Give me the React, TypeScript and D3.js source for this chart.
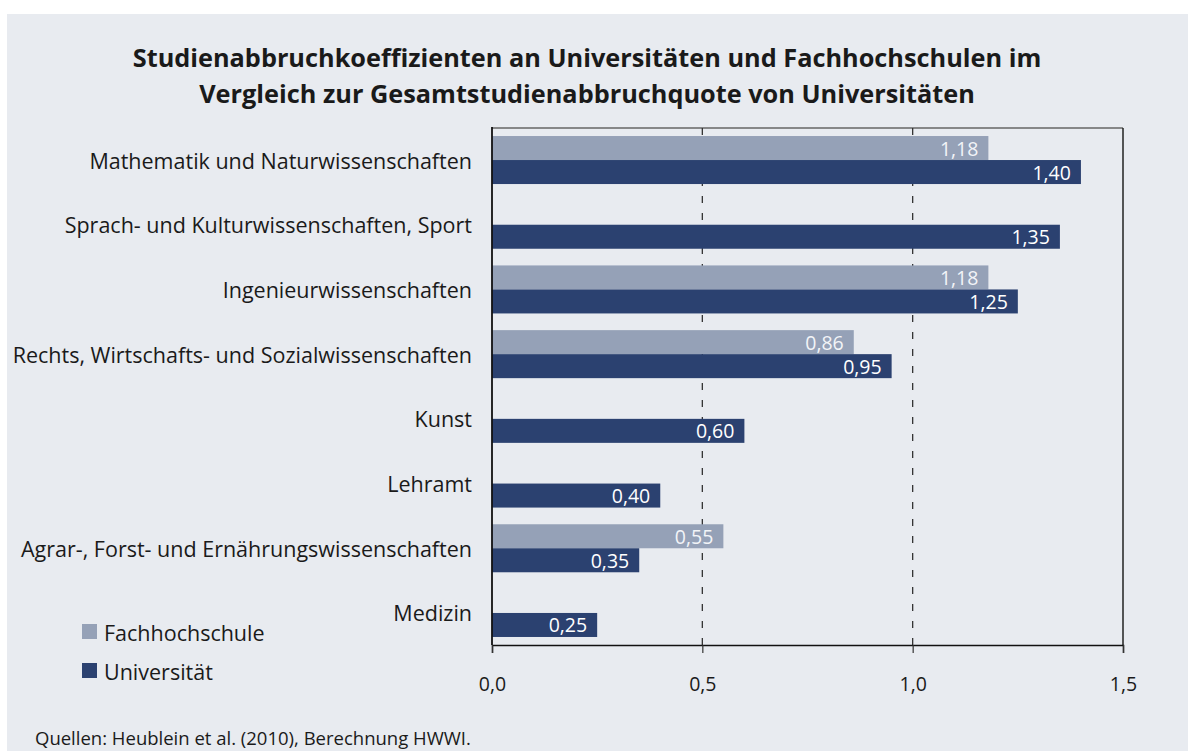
import React, { useEffect, useRef } from "react";
import * as d3 from "d3";

const categories = [
  "Mathematik und Naturwissenschaften",
  "Sprach- und Kulturwissenschaften, Sport",
  "Ingenieurwissenschaften",
  "Rechts, Wirtschafts- und Sozialwissenschaften",
  "Kunst",
  "Lehramt",
  "Agrar-, Forst- und Ernährungswissenschaften",
  "Medizin",
];
const fachhochschule: (number | null)[] = [1.18, null, 1.18, 0.86, null, null, 0.55, null];
const universitaet: number[] = [1.4, 1.35, 1.25, 0.95, 0.6, 0.4, 0.35, 0.25];
const seriesNames = ["Fachhochschule", "Universität"];
const xTicks = [0, 0.5, 1.0, 1.5];

const W = 1188;
const H = 751;
const FONT = "'Open Sans', 'Noto Sans', sans-serif";
const BG = "#e8ebf0";
const C_FH = "#95a1b7";
const C_UNI = "#2b4170";
const TXT = "#1a1a1a";

const fmt = (v: number) => d3.format(".2f")(v).replace(".", ",");

export default function App() {
  const axisRef = useRef<SVGGElement>(null);

  const x = d3.scaleLinear().domain([0, 1.5]).range([492, 1123]);
  const y = d3
    .scaleBand<string>()
    .domain(categories)
    .range([128, 645])
    .paddingInner(0.258)
    .paddingOuter(0.124);
  const inner = d3.scaleBand<string>().domain(seriesNames).range([0, y.bandwidth()]);

  useEffect(() => {
    const g = d3.select(axisRef.current);
    g.selectAll("*").remove();
    g.call(
      d3
        .axisBottom(x)
        .tickValues(xTicks)
        .tickSize(8)
        .tickPadding(24)
        .tickFormat((d) => d3.format(".1f")(d as number).replace(".", ","))
    );
    g.select(".domain").attr("stroke", "#111").attr("stroke-width", 1.5);
    g.selectAll(".tick line").attr("stroke", "#333").attr("stroke-width", 1.2);
    g.selectAll(".tick text")
      .attr("fill", TXT)
      .attr("font-size", 19.5)
      .attr("font-family", FONT);
  }, []);

  const rows = categories.map((c, i) => ({ c, fh: fachhochschule[i], uni: universitaet[i] }));

  return (
    <div style={{ position: "fixed", left: 0, top: 0 }}>
      <svg width={W} height={H} style={{ display: "block" }} fontFamily={FONT}>
        <rect x={0} y={0} width={W} height={H} fill="#fff" />
        <rect x={7} y={14} width={W - 7} height={H - 14} fill={BG} />

        <text x={587} y={67} textAnchor="middle" fontSize={25.3} fontWeight={700} fill={TXT}>
          Studienabbruchkoeffizienten an Universitäten und Fachhochschulen im
        </text>
        <text x={587} y={103} textAnchor="middle" fontSize={25.3} fontWeight={700} fill={TXT}>
          Vergleich zur Gesamtstudienabbruchquote von Universitäten
        </text>

        {/* frame and grid */}
        <line x1={x(0)} x2={x(1.5)} y1={128} y2={128} stroke="#666" strokeWidth={1.5} />
        <line x1={x(1.5)} x2={x(1.5)} y1={128} y2={645} stroke="#222" strokeWidth={1.5} />
        {[0.5, 1.0].map((t) => (
          <line
            key={t}
            x1={x(t)}
            x2={x(t)}
            y1={128}
            y2={645}
            stroke="#333"
            strokeWidth={1.3}
            strokeDasharray="7,10"
          />
        ))}

        {rows.map((r) => {
          const y0 = y(r.c) as number;
          return (
            <g key={r.c}>
              <text
                x={472}
                y={y0 + y.bandwidth() / 2}
                textAnchor="end"
                dominantBaseline="central"
                fontSize={21.5}
                fill={TXT}
              >
                {r.c}
              </text>
              {r.fh != null && (
                <g>
                  <rect
                    x={x(0)}
                    y={y0 + (inner("Fachhochschule") as number)}
                    width={x(r.fh) - x(0)}
                    height={inner.bandwidth()}
                    fill={C_FH}
                  />
                  <text
                    x={x(r.fh) - 10}
                    y={y0 + (inner("Fachhochschule") as number) + inner.bandwidth() / 2}
                    textAnchor="end"
                    dominantBaseline="central"
                    fontSize={19.5}
                    fill="#f2f4f7"
                  >
                    {fmt(r.fh)}
                  </text>
                </g>
              )}
              <rect
                x={x(0)}
                y={y0 + (inner("Universität") as number)}
                width={x(r.uni) - x(0)}
                height={inner.bandwidth()}
                fill={C_UNI}
              />
              <text
                x={x(r.uni) - 10}
                y={y0 + (inner("Universität") as number) + inner.bandwidth() / 2}
                textAnchor="end"
                dominantBaseline="central"
                fontSize={19.5}
                fill="#ffffff"
              >
                {fmt(r.uni)}
              </text>
            </g>
          );
        })}

        <line x1={x(0)} x2={x(0)} y1={127} y2={645} stroke="#111" strokeWidth={1.8} />
        <g ref={axisRef} transform="translate(0,645)" />

        {/* legend */}
        {seriesNames.map((s, i) => (
          <g key={s} transform={`translate(82,${624 + i * 39})`}>
            <rect width={15} height={15} fill={i === 0 ? C_FH : C_UNI} />
            <text x={22} y={8} dominantBaseline="central" fontSize={21.5} fill={TXT}>
              {s}
            </text>
          </g>
        ))}

        <text x={35} y={745} fontSize={18.5} fill={TXT}>
          Quellen: Heublein et al. (2010), Berechnung HWWI.
        </text>
      </svg>
    </div>
  );
}
